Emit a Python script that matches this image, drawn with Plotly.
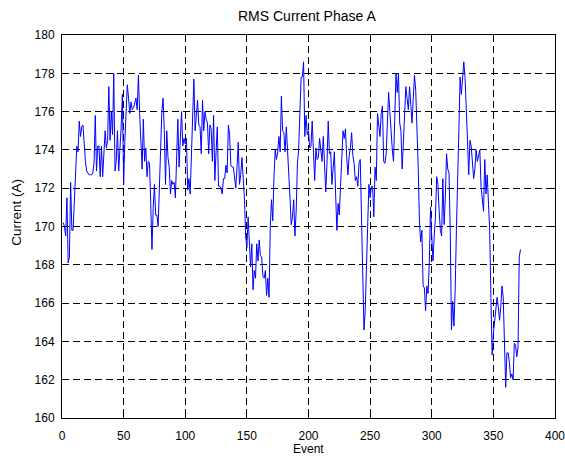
import plotly.graph_objects as go

# RMS current (A), per event block
current_001_050 = [170.2, 170.0, 169.5, 171.5, 168.1, 168.4, 172.3, 169.8, 169.8, 171.5,
                   172.2, 174.2, 173.9, 175.5, 174.7, 175.2, 175.3, 174.0, 173.4, 172.9,
                   172.8, 172.7, 172.7, 172.7, 172.8, 173.3, 175.8, 172.9, 174.2, 174.2,
                   172.6, 174.2, 172.6, 174.1, 175.0, 174.1, 174.5, 177.3, 174.5, 176.0,
                   174.8, 178.0, 172.9, 173.4, 175.0, 172.9, 174.0, 175.2, 176.9, 172.2]
current_051_099 = [174.5, 175.9, 177.4, 176.7, 175.9, 176.5, 176.1, 176.2, 176.5, 176.7,
                   176.1, 177.9, 175.9, 174.5, 173.0, 175.6, 173.4, 174.1, 172.6, 173.4,
                   173.3, 171.2, 168.8, 171.0, 172.2, 170.6, 170.6, 170.0, 172.0, 174.5,
                   176.0, 176.7, 175.0, 172.2, 175.0, 173.6, 173.1, 171.7, 172.4, 172.2,
                   172.3, 171.5, 173.6, 175.6, 173.1, 175.1, 176.0, 174.2, 174.6]
current_100_150 = [174.3, 174.6, 171.9, 172.5, 171.7, 173.6, 174.7, 177.7, 175.0, 175.8,
                   176.6, 175.3, 175.2, 173.8, 176.6, 175.0, 176.0, 175.6, 175.4, 173.8,
                   175.3, 175.1, 173.4, 175.8, 172.4, 173.9, 175.2, 172.1, 172.1, 172.0,
                   171.7, 172.5, 172.5, 173.2, 172.8, 175.3, 174.8, 173.2, 173.1, 173.1,
                   172.5, 172.0, 173.1, 174.4, 172.2, 172.7, 173.6, 172.7, 171.5, 169.5,
                   168.9]
current_151_198 = [170.5, 169.1, 167.9, 169.1, 166.7, 167.7, 167.3, 169.1, 168.2, 169.3,
                   168.5, 168.4, 167.4, 167.3, 167.7, 166.4, 167.3, 166.3, 170.0, 171.4,
                   170.3, 172.6, 174.0, 173.5, 173.9, 174.7, 173.9, 176.8, 175.0, 174.9,
                   173.9, 175.2, 174.1, 172.7, 171.5, 170.1, 170.5, 171.4, 169.5, 170.8,
                   173.3, 174.0, 176.7, 177.8, 177.8, 178.6, 174.7, 175.8]
current_199_248 = [174.8, 175.0, 174.1, 174.2, 175.5, 174.2, 172.4, 174.1, 173.5, 173.6,
                   174.6, 174.0, 173.4, 174.7, 172.7, 171.8, 173.3, 175.5, 173.8, 173.9,
                   172.2, 173.2, 173.9, 171.7, 169.8, 171.2, 170.6, 172.1, 174.0, 175.0,
                   174.6, 175.1, 173.6, 172.7, 173.7, 174.1, 174.9, 173.7, 173.3, 172.4,
                   172.6, 172.1, 173.3, 173.5, 170.5, 166.5, 164.6, 165.6, 167.6, 169.8]
current_249_297 = [172.2, 171.5, 172.1, 172.1, 170.5, 173.1, 172.4, 175.9, 175.2, 174.7,
                   175.9, 176.3, 173.4, 173.3, 173.8, 176.0, 177.0, 176.0, 174.7, 174.0,
                   173.4, 175.4, 178.0, 177.0, 178.0, 175.4, 175.0, 173.0, 174.6, 175.9,
                   177.3, 176.7, 176.1, 177.3, 176.1, 175.4, 176.7, 177.9, 177.1, 175.5,
                   173.1, 170.3, 169.2, 169.8, 166.9, 166.8, 165.6, 166.9, 166.5]
current_298_348 = [168.1, 171.0, 169.5, 168.2, 169.5, 170.5, 172.6, 172.2, 170.8, 169.8,
                   169.5, 172.5, 170.1, 171.5, 173.8, 173.0, 172.8, 169.8, 164.6, 166.1,
                   164.8, 166.7, 169.8, 173.3, 175.0, 177.8, 176.9, 177.7, 178.6, 177.8,
                   176.4, 174.5, 172.7, 174.5, 174.2, 173.3, 172.5, 173.0, 174.0, 173.4,
                   173.7, 174.0, 172.1, 171.5, 170.8, 173.5, 171.7, 172.7, 171.5, 169.8,
                   166.3]
current_349_372 = [163.3, 164.4, 165.1, 165.6, 166.3, 165.8, 165.1, 165.8, 166.9, 166.3,
                   163.5, 161.6, 163.4, 163.4, 162.9, 162.1, 162.3, 162.0, 163.9, 163.8,
                   163.2, 163.7, 168.4, 168.8]

current = (current_001_050 + current_051_099 + current_100_150 + current_151_198 +
           current_199_248 + current_249_297 + current_298_348 + current_349_372)
events = list(range(1, len(current) + 1))

x_ticks = [0, 50, 100, 150, 200, 250, 300, 350, 400]
y_ticks = [160, 162, 164, 166, 168, 170, 172, 174, 176, 178, 180]

FONT = "Liberation Sans, Arial, Helvetica, sans-serif"

fig = go.Figure()
fig.add_trace(go.Scatter(x=events, y=current, mode="lines",
                         line=dict(color="#0000FF", width=1), hoverinfo="x+y",
                         showlegend=False))

axis_common = dict(
    showline=True, linecolor="black", linewidth=1, mirror="ticks",
    ticks="inside", ticklen=5, tickwidth=1, tickcolor="black",
    showgrid=True, gridcolor="black", gridwidth=1, griddash="7px,4px",
    zeroline=False, tickfont=dict(family=FONT, size=12, color="black"),
    ticklabeloverflow="allow", automargin=False,
)
fig.update_xaxes(range=[0, 400], tickvals=x_ticks, ticklabelstandoff=7, **axis_common)
fig.update_yaxes(range=[160, 180], tickvals=y_ticks, ticklabelstandoff=4, **axis_common)

fig.update_layout(
    width=565, height=456,
    margin=dict(l=62, r=10, t=35, b=38),
    paper_bgcolor="white", plot_bgcolor="white",
    annotations=[
        dict(text="RMS Current Phase A", xref="paper", yref="paper", x=0.497, y=1.049,
             xanchor="center", yanchor="middle", showarrow=False,
             font=dict(family=FONT, size=14, color="black")),
        dict(text="Event", xref="paper", yref="paper", x=0.5, y=-0.081,
             xanchor="center", yanchor="middle", showarrow=False,
             font=dict(family=FONT, size=12, color="black")),
        dict(text="Current (A)", xref="paper", yref="paper", x=-0.091, y=0.536,
             xanchor="center", yanchor="middle", textangle=-90, showarrow=False,
             font=dict(family=FONT, size=13.5, color="black")),
    ],
)

fig.write_html("out.html", config={"displayModeBar": False},
               post_script="document.body.style.margin='0';document.body.style.overflow='hidden';")
